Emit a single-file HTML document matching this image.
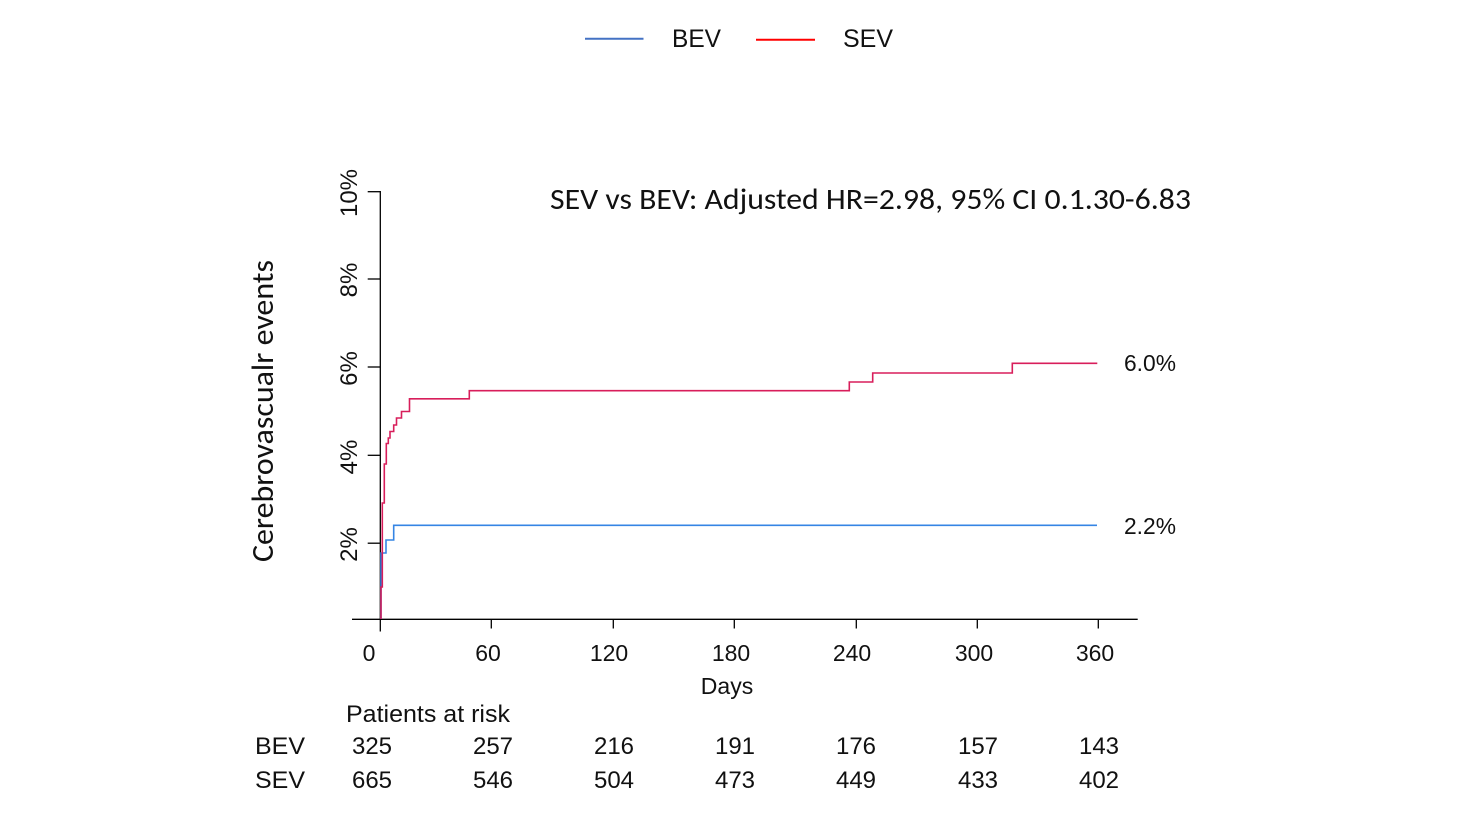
<!DOCTYPE html>
<html>
<head>
<meta charset="utf-8">
<style>
  html, body { margin: 0; padding: 0; background: #ffffff; }
  svg { display: block; }
  text { font-family: "Liberation Sans", Arial, sans-serif; fill: #111; }
  .cal { font-family: Carlito, "Liberation Sans", Arial, sans-serif; }
</style>
</head>
<body>
<svg width="1478" height="832" viewBox="0 0 1478 832" xmlns="http://www.w3.org/2000/svg">
  <rect x="0" y="0" width="1478" height="832" fill="#ffffff"/>

  <!-- Legend -->
  <line x1="585" y1="38.7" x2="643.5" y2="38.7" stroke="#4472C4" stroke-width="2"/>
  <text x="672" y="47" font-size="25" textLength="49" lengthAdjust="spacingAndGlyphs">BEV</text>
  <line x1="756" y1="39.7" x2="815" y2="39.7" stroke="#FF0000" stroke-width="2"/>
  <text x="843" y="47" font-size="25" textLength="50" lengthAdjust="spacingAndGlyphs">SEV</text>

  <!-- Title -->
  <text class="cal" x="550" y="209" font-size="29.5" textLength="641" lengthAdjust="spacingAndGlyphs">SEV vs BEV: Adjusted HR=2.98, 95% CI 0.1.30-6.83</text>

  <!-- Y axis label -->
  <text class="cal" transform="translate(273,411) rotate(-90)" text-anchor="middle" font-size="30.5" textLength="302" lengthAdjust="spacingAndGlyphs">Cerebrovascualr events</text>

  <!-- Axes -->
  <g stroke="#000" stroke-width="1.3" fill="none">
    <line x1="380.3" y1="191" x2="380.3" y2="631.5"/>
    <line x1="352" y1="619.3" x2="1137.7" y2="619.3"/>
    <line x1="367.7" y1="191.7" x2="380.3" y2="191.7"/>
    <line x1="367.7" y1="279" x2="380.3" y2="279"/>
    <line x1="367.7" y1="367" x2="380.3" y2="367"/>
    <line x1="367.7" y1="455.3" x2="380.3" y2="455.3"/>
    <line x1="367.7" y1="543.2" x2="380.3" y2="543.2"/>
    <line x1="491.3" y1="619.3" x2="491.3" y2="628.5"/>
    <line x1="613.3" y1="619.3" x2="613.3" y2="628.5"/>
    <line x1="734.3" y1="619.3" x2="734.3" y2="628.5"/>
    <line x1="856.3" y1="619.3" x2="856.3" y2="628.5"/>
    <line x1="977.3" y1="619.3" x2="977.3" y2="628.5"/>
    <line x1="1098.3" y1="619.3" x2="1098.3" y2="628.5"/>
  </g>

  <!-- Y tick labels (rotated) -->
  <g font-size="24" text-anchor="middle">
    <text transform="translate(357,193) rotate(-90)">10%</text>
    <text transform="translate(357,280) rotate(-90)">8%</text>
    <text transform="translate(357,368.5) rotate(-90)">6%</text>
    <text transform="translate(357,457) rotate(-90)">4%</text>
    <text transform="translate(357,544.5) rotate(-90)">2%</text>
  </g>

  <!-- X tick labels -->
  <g font-size="23" text-anchor="middle">
    <text x="369" y="661">0</text>
    <text x="488" y="661">60</text>
    <text x="609" y="661">120</text>
    <text x="731" y="661">180</text>
    <text x="852" y="661">240</text>
    <text x="974" y="661">300</text>
    <text x="1095" y="661">360</text>
    <text x="727" y="694">Days</text>
  </g>

  <!-- Curves -->
  <path d="M381,619 V553 H386 V540 H393.7 V525.3 H1097" fill="none" stroke="#3585e4" stroke-width="1.6"/>
  <path d="M381,619 V587 H382.3 V503 H384.3 V464 H386.3 V443.5 H388.3 V438 H390 V431.5 H393.7 V425 H396.5 V418 H401.5 V411.5 H409.5 V398.8 H469.3 V390.7 H849.3 V382 H872.7 V373 H1012.3 V363.3 H1097.3" fill="none" stroke="#d81e5b" stroke-width="1.6"/>

  <!-- End labels -->
  <text x="1124" y="371" font-size="23" textLength="52" lengthAdjust="spacingAndGlyphs">6.0%</text>
  <text x="1124" y="534" font-size="23" textLength="52" lengthAdjust="spacingAndGlyphs">2.2%</text>

  <!-- Patients at risk -->
  <text x="346" y="722" font-size="24" textLength="164" lengthAdjust="spacingAndGlyphs">Patients at risk</text>
  <text x="255" y="754" font-size="24" textLength="50" lengthAdjust="spacingAndGlyphs">BEV</text>
  <text x="255" y="788" font-size="24" textLength="50" lengthAdjust="spacingAndGlyphs">SEV</text>
  <g font-size="24" text-anchor="middle">
    <text x="372" y="754">325</text>
    <text x="493" y="754">257</text>
    <text x="614" y="754">216</text>
    <text x="735" y="754">191</text>
    <text x="856" y="754">176</text>
    <text x="978" y="754">157</text>
    <text x="1099" y="754">143</text>
    <text x="372" y="788">665</text>
    <text x="493" y="788">546</text>
    <text x="614" y="788">504</text>
    <text x="735" y="788">473</text>
    <text x="856" y="788">449</text>
    <text x="978" y="788">433</text>
    <text x="1099" y="788">402</text>
  </g>
</svg>
</body>
</html>
